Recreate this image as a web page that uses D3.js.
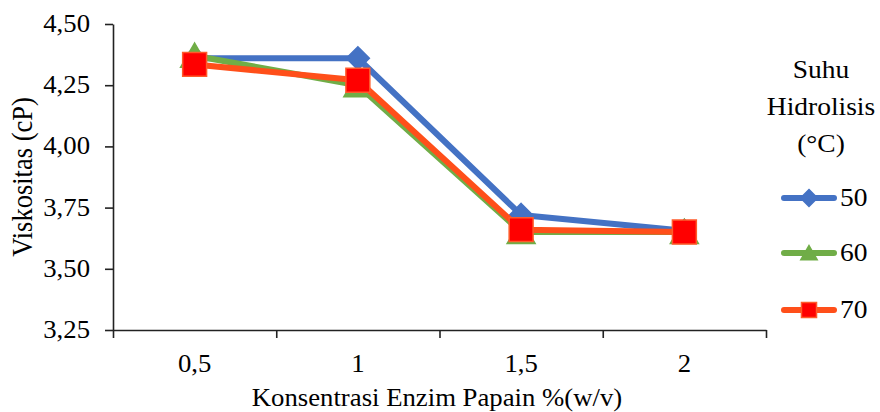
<!DOCTYPE html>
<html>
<head>
<meta charset="utf-8">
<script src="https://cdn.jsdelivr.net/npm/d3@7"></script>
<style>
  html, body { margin: 0; padding: 0; background: #fff; }
  svg { display: block; }
</style>
</head>
<body>
<svg id="chart" width="880" height="412"></svg>
<script>
// Viscosity vs papain enzyme concentration, per hydrolysis temperature
const categories = ["0,5", "1", "1,5", "2"];
const seriesNames = ["50", "60", "70"];
const visc50 = [4.36, 4.36, 3.72, 3.655];
const visc60 = [4.37, 4.25, 3.65, 3.65];
const visc70 = [4.335, 4.27, 3.66, 3.65];
const yTicks = [3.25, 3.50, 3.75, 4.00, 4.25, 4.50];

const series = [
  { name: seriesNames[0], values: visc50, line: "#4472C4", fill: "#4472C4", stroke: "#4472C4", shape: "diamond" },
  { name: seriesNames[1], values: visc60, line: "#70AD47", fill: "#70AD47", stroke: "#70AD47", shape: "triangle" },
  { name: seriesNames[2], values: visc70, line: "#FF4F1A", fill: "#FF0000", stroke: "#FF5A2A", shape: "square" }
];

const svg = d3.select("#chart");
const plotLeft = 113, plotRight = 766, plotTop = 24, plotBottom = 330;
const fontFamily = "'Liberation Serif', 'Times New Roman', 'DejaVu Serif', serif";
const fs = 25, sx = 1.07; // font size and horizontal text stretch

const x = d3.scaleBand().domain(categories).range([plotLeft, plotRight]).padding(0);
const xEdges = d3.scaleLinear().domain([0, categories.length]).range([plotLeft, plotRight]);
const y = d3.scaleLinear().domain([3.25, 4.5]).range([plotBottom, plotTop]);
const fmt = v => d3.format(".2f")(v).replace(".", ",");

function label(g, tx, ty, str, anchor, opts = {}) {
  const t = g.append("g")
    .attr("transform", `translate(${tx},${ty}) scale(${opts.sx || sx},1)` + (opts.rot ? ` rotate(${opts.rot})` : ""));
  t.append("text")
    .attr("text-anchor", anchor)
    .attr("font-family", fontFamily)
    .attr("font-size", opts.fs || fs)
    .attr("fill", "#000")
    .text(str);
  return t;
}

// Y axis
const yAxis = svg.append("g").attr("transform", `translate(${plotLeft},0)`)
  .call(d3.axisLeft(y).tickValues(yTicks).tickSize(8).tickSizeOuter(0).tickFormat(""));
yAxis.select(".domain").attr("stroke", "#222").attr("stroke-width", 1.6);
yAxis.selectAll(".tick line").attr("stroke", "#222").attr("stroke-width", 1.6);
yTicks.forEach(v => label(svg, 90, y(v) + 8, fmt(v), "end"));

// X axis: ticks between categories
const xAxis = svg.append("g").attr("transform", `translate(0,${plotBottom})`)
  .call(d3.axisBottom(xEdges).ticks(categories.length).tickSize(8).tickSizeOuter(0).tickFormat(""));
xAxis.select(".domain").attr("stroke", "#222").attr("stroke-width", 1.6);
xAxis.selectAll(".tick line").attr("stroke", "#222").attr("stroke-width", 1.6);
categories.forEach(c => label(svg, x(c) + x.bandwidth() / 2, 372, c, "middle"));

// Axis titles
label(svg, 437, 406, "Konsentrasi Enzim Papain %(w/v)", "middle");
label(svg, 32, 177, "Viskositas (cP)", "middle", { rot: -90, fs: 26.5, sx: 1.12 });

// Marker shapes
function marker(g, shape, cx, cy, s, s0) {
  let sym;
  if (shape === "diamond") sym = d3.symbol(d3.symbolDiamond2, s * s * 0.5);
  else if (shape === "triangle") sym = d3.symbol(d3.symbolTriangle2, s * s * 0.433);
  else sym = d3.symbol(d3.symbolSquare2, s * s);
  const dy = shape === "triangle" ? s * 0.096 : 0;
  g.append("path").attr("d", sym())
    .attr("transform", `translate(${cx},${cy + dy})`)
    .attr("fill", s0.fill).attr("stroke", s0.stroke).attr("stroke-width", 1.5)
    .attr("stroke-linejoin", "miter");
}

const markerSize = { diamond: 26, triangle: 36, square: 27 };
const line = d3.line()
  .x((d, i) => x(categories[i]) + x.bandwidth() / 2)
  .y(d => y(d));

series.forEach(s => {
  const g = svg.append("g");
  g.append("path").datum(s.values).attr("d", line)
    .attr("fill", "none").attr("stroke", s.line).attr("stroke-width", 6)
    .attr("stroke-linejoin", "round").attr("stroke-linecap", "round");
  s.values.forEach((v, i) => marker(g, s.shape, x(categories[i]) + x.bandwidth() / 2, y(v), markerSize[s.shape], s));
});

// Legend
const legendTitle = ["Suhu", "Hidrolisis", "(°C)"];
legendTitle.forEach((t, i) => label(svg, 821, 78 + i * 37, t, "middle", { sx: 1.1 }));
const legendY = [198, 253, 310];
const legendMarker = { diamond: 19, triangle: 21, square: 17 };
series.forEach((s, i) => {
  const g = svg.append("g");
  g.append("line").attr("x1", 784).attr("x2", 834).attr("y1", legendY[i]).attr("y2", legendY[i])
    .attr("stroke", s.line).attr("stroke-width", 6).attr("stroke-linecap", "round");
  marker(g, s.shape, 809, legendY[i], legendMarker[s.shape], s);
  label(svg, 840, legendY[i] + 8, s.name, "start", { sx: 1.1 });
});
</script>
</body>
</html>
